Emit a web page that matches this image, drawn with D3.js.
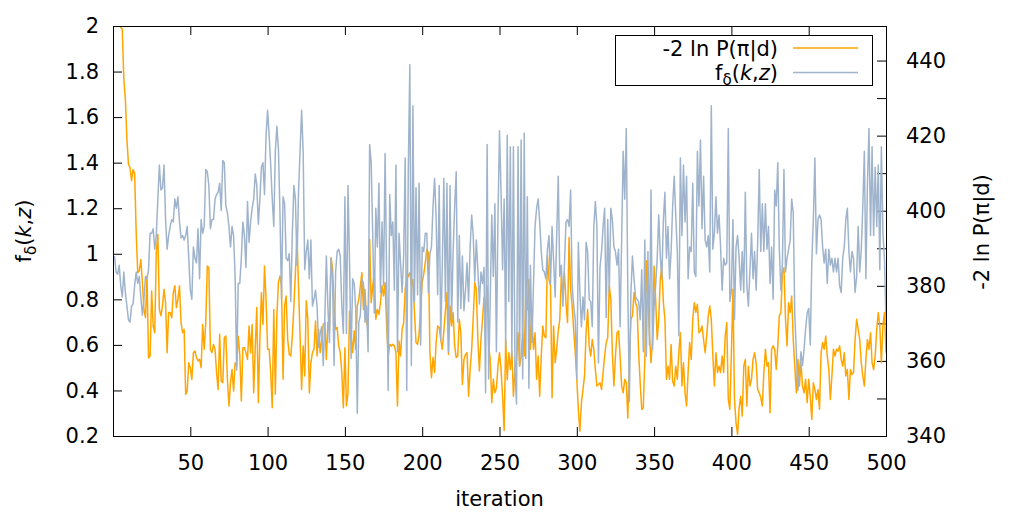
<!DOCTYPE html>
<html>
<head>
<meta charset="utf-8">
<script src="https://cdn.jsdelivr.net/npm/d3@7"></script>
<style>
  body { margin: 0; background: #fff; }
  text { font-family: "DejaVu Sans", sans-serif; fill: #000; }
</style>
</head>
<body>
<svg id="chart" width="1035" height="518"></svg>
<script>
// f_delta(k,z) per iteration (left axis)
const fDelta = [
  0.99,0.92,0.91,0.95,0.86,0.81,0.92,0.83,0.77,0.71,
  0.70,0.77,0.78,0.86,0.92,0.87,0.90,0.81,0.73,0.80,
  0.90,0.89,0.93,1.09,1.09,1.11,1.02,1.08,1.24,1.39,
  1.28,1.29,1.39,1.15,1.02,1.08,1.12,1.15,1.14,1.24,
  1.20,1.25,1.14,1.07,1.08,1.06,1.08,1.12,0.98,0.84,
  0.80,1.03,0.98,0.96,1.11,0.89,1.15,1.09,1.12,1.37,
  1.36,1.30,1.11,1.15,1.15,1.24,1.26,1.27,1.31,1.19,
  1.41,1.40,1.21,1.18,1.12,1.03,1.12,1.08,0.90,0.49,
  0.87,0.87,0.98,1.14,1.08,0.94,1.23,1.05,1.14,1.20,
  1.24,1.35,1.30,1.13,1.24,1.38,1.40,1.26,1.52,1.63,
  1.52,1.39,1.24,1.12,1.45,1.56,1.46,1.18,0.80,1.25,
  1.22,0.98,0.97,1.00,0.79,1.09,1.30,1.24,0.95,1.27,
  1.45,1.63,1.45,0.93,1.01,1.06,0.89,1.06,0.77,0.80,
  0.84,0.77,0.59,0.65,0.68,0.51,0.71,0.99,0.77,0.61,
  0.98,0.89,0.51,0.92,1.01,1.02,0.99,0.77,0.65,1.25,
  0.65,1.30,0.96,0.54,0.89,0.87,0.76,0.30,0.70,0.73,
  0.89,0.87,0.70,0.77,0.57,1.48,1.40,1.08,0.74,1.20,
  1.03,1.31,0.83,1.14,0.86,1.44,0.90,0.40,1.26,1.08,
  1.14,0.84,1.39,0.57,1.09,0.96,0.83,0.99,1.42,0.40,
  1.37,1.83,0.51,1.65,0.79,1.29,0.82,1.31,0.60,1.03,
  1.01,1.09,1.09,0.83,1.00,1.03,1.21,1.33,1.16,0.82,
  1.30,0.62,0.95,1.33,0.79,1.31,0.57,1.30,0.71,1.01,
  1.21,1.36,0.70,1.08,0.76,0.99,0.75,0.84,0.96,0.79,
  1.03,1.17,1.08,0.88,1.06,0.93,0.78,0.92,0.87,0.94,
  0.39,1.48,0.45,0.80,1.17,0.90,1.22,0.57,1.15,1.54,
  1.27,0.93,1.24,0.59,1.52,0.79,1.47,0.55,1.47,0.49,
  0.34,1.47,0.51,1.50,0.45,1.53,0.54,1.25,0.41,0.95,
  0.61,0.87,1.12,1.20,1.24,1.14,1.01,0.93,0.92,0.89,
  1.02,1.08,0.87,1.12,0.97,0.81,1.08,1.34,0.90,0.95,
  0.77,0.95,1.14,1.15,1.12,1.28,0.86,0.77,0.71,0.45,
  1.05,0.83,0.68,0.81,0.71,1.05,1.01,0.80,0.79,0.68,
  1.12,1.23,1.12,0.52,0.94,1.01,1.12,1.20,0.72,1.15,
  0.83,1.20,1.15,1.03,1.01,0.95,1.02,0.68,1.06,1.45,
  1.24,1.55,0.83,0.35,0.83,0.99,0.89,0.81,0.80,0.79,
  0.71,0.93,0.57,1.06,0.55,1.01,0.60,1.28,0.58,0.77,
  0.86,0.98,1.17,0.99,0.89,1.15,1.27,0.98,1.12,0.89,
  1.01,1.21,1.34,1.17,1.01,0.64,1.42,1.08,1.39,1.14,
  1.34,0.89,1.03,1.01,1.31,0.92,0.90,1.45,1.21,1.50,
  1.11,1.34,1.06,1.03,1.08,0.92,1.65,1.02,1.09,1.25,
  1.09,1.17,1.03,0.84,0.98,0.95,0.96,1.55,0.79,0.84,
  1.15,0.71,1.03,1.08,0.98,0.84,1.01,0.83,1.27,0.86,
  0.77,0.93,1.09,0.89,1.01,0.84,1.05,1.37,1.01,1.22,
  1.01,1.22,1.02,1.12,0.87,1.03,0.80,1.28,1.21,1.40,
  1.02,0.84,0.96,1.37,0.92,0.98,1.02,1.06,1.24,1.18,
  0.73,0.57,0.40,0.48,0.57,0.51,0.58,0.67,0.74,0.76,
  0.60,0.96,1.15,1.42,1.00,1.15,1.17,1.15,1.03,0.96,
  1.02,0.87,1.02,0.95,0.98,0.92,0.98,0.92,0.98,0.86,
  0.83,0.98,1.03,1.15,1.20,1.01,0.92,1.01,0.98,0.83,
  0.90,1.12,0.92,1.02,1.21,1.45,0.89,1.31,1.55,1.08,
  1.47,1.08,1.38,1.12,1.39,0.93,1.47,1.09,0.98,0.70
];

// -2 ln P(pi|d) per iteration (right axis)
const minus2LnP = [
  468,462,456,451,448.8,448.4,435,429.7,419,412.4,
  411.5,408,411,410,394,383.5,384,387,381,373.7,
  371.5,382.6,360.8,361.3,378.6,369.3,367.5,388.8,393.7,373.7,
  372,374.6,379.1,375.5,362.2,372.9,372.9,371.5,378.2,380,
  374.2,376.4,380,370.2,367.5,368.4,351.1,352,359.5,358.2,
  355.1,362.2,362.6,360.9,360,360.4,358.2,369.7,363.1,370.2,
  385.3,384.8,363.1,362.2,364.4,363.1,356.9,352.4,367.1,354.6,
  354.2,366.2,366.6,355.1,348,354.2,357.7,352,359.5,358.6,
  366.6,361.7,349.3,363.5,363.5,362.2,360.4,369.3,362.2,369.7,
  351.5,363.5,374.2,348.9,365.7,378.2,369.7,385.3,376.4,363.1,
  363.1,356.9,347.5,373.7,351.1,372,380.9,382.6,380,355.1,
  374.6,377.3,365.7,361.7,361.3,366.6,374.6,383.5,393.3,380,
  366.6,352.4,364,356,376,371.1,351.5,359.5,362.2,363.1,
  370.6,361.3,368.4,362.2,365.7,369.7,370.2,360.4,370.2,368.4,
  387.5,384.8,374.6,368.4,368.9,364,362.2,356.9,347.5,363.5,
  348,351.5,373.3,366.6,362.2,368,363.1,374.6,376.4,380,
  383.5,373.7,379.1,370.2,368.9,392.4,375.5,380,383.5,371.1,
  373.7,372.4,375.5,380,377.3,380.9,369.3,361.3,364.4,364,
  364.4,364,362.2,348,365.3,361.3,368.4,370.2,379.1,381.7,
  382.6,383.5,380,381.7,372.9,364.9,364.4,367.1,374.6,380.9,
  383.1,386.2,389.7,388.8,362.2,355.5,360.9,356.9,364.9,369.3,
  368.9,365.7,363.1,368,373.3,378.2,361.7,374.6,369.3,372.9,
  364,360.9,361.3,371.1,367.5,353.7,360.4,361.7,362.2,350.6,
  357.7,363.1,371.5,380.9,379.1,365.7,357.3,365.7,371.1,376.9,
  372.9,380,364,360.4,348.9,355.1,351.5,352.8,358.6,362.2,
  357.7,350.6,341.5,365.7,355,362.2,357.7,362.6,350.6,358.2,
  360.4,367.5,358.6,361.3,367.5,361.3,378.2,373.7,381.7,363.1,
  371.1,363.1,367.5,355.1,361.3,350.6,361.3,369.3,366.6,366.2,
  388,381.7,380,350.2,369.3,359.5,363.1,368,371.1,382.6,
  377.3,383.5,375.5,370.2,392.9,379.1,374.6,368,362.2,355.1,
  347.1,341.3,348.9,352.4,356,367.5,373.7,364,361.3,365.7,
  363.1,357.7,353.3,353.7,354.2,352.4,356.9,361.3,364.9,366.2,
  380,376.4,362.2,353.3,361.3,367.5,368,361.3,353.3,351.5,
  355.1,354.2,344.8,360.4,371.1,372,378.2,375.5,374.2,362.2,
  354.2,347.1,347.5,360.4,386.6,376.4,367.1,359.5,365.7,385.3,
  376.4,365.7,371.1,381.7,385.3,375.5,371.1,355.1,358.6,355.1,
  364.4,354.6,353.3,358.6,355.1,362.2,367.5,353.3,359.5,351.5,
  348,356.9,364.9,360.4,371.1,375.5,372.9,375.1,367.5,368,
  369.3,365.7,362.2,366.6,371.9,374.6,371.1,361.3,353.3,362.2,
  356.9,358.6,356.9,361.3,356.9,366.6,370.2,349.7,347.1,362.2,
  379.1,349.7,343.5,340.4,347.5,350.6,345.3,358.6,360.4,348,
  358.6,353.3,355.1,360.4,362.2,359.5,352.4,351.5,350.2,348,
  356.9,363.1,358.6,359.5,346.2,363.1,364,363.1,357.7,364,
  372,372.9,383.5,384.8,371.1,364,375.5,372.9,377.3,365.7,
  358.6,351.5,360.4,353.3,359.5,353.3,351.5,355.1,348.9,355.1,
  350.6,344.4,354.2,352.4,349.7,352.4,347.1,362.2,364.9,363.1,
  366.6,361.3,357.7,349.7,356,363.1,361.3,363.1,362.6,364,
  360.4,358.6,362.2,356,357.7,349.7,357.7,356.4,356.9,365.7,
  371.1,368.4,365.7,359.5,356,353.3,360.4,365.7,363.1,367.5,
  359.5,357.7,361.3,368.4,372.9,369.3,359.5,369.3,372.9,362.2
];

const xTicks = [50, 100, 150, 200, 250, 300, 350, 400, 450, 500];
const leftTicks = [0.2, 0.4, 0.6, 0.8, 1, 1.2, 1.4, 1.6, 1.8, 2];
const rightTicks = [340, 350, 360, 370, 380, 390, 400, 410, 420, 430, 440];
const rightLabels = [340, 360, 380, 400, 420, 440];

// Chart settings
const plot = { left: 113, right: 886, top: 26, bottom: 436 };
const colors = { lnP: '#ffa500', f: '#9fb4cc' };
const fontSize = 21;

const svg = d3.select('#chart');

// Scales
const x = d3.scaleLinear().domain([0, 500]).range([plot.left, plot.right]);
const yLeft = d3.scaleLinear().domain([0.2, 2]).range([plot.bottom, plot.top]);
const yRight = d3.scaleLinear().domain([340, 449.2]).range([plot.bottom, plot.top]);

// Clip the traces to the plot frame
svg.append('defs').append('clipPath')
  .attr('id', 'plot-clip')
  .append('rect')
  .attr('x', plot.left)
  .attr('y', plot.top)
  .attr('width', plot.right - plot.left)
  .attr('height', plot.bottom - plot.top);

// Axes (ticks point inward, like gnuplot)
const styleAxis = g => {
  g.select('.domain').remove();
  g.attr('color', '#000');
  g.selectAll('text')
    .attr('font-size', fontSize)
    .attr('font-family', '"DejaVu Sans", sans-serif');
};

svg.append('g')
  .attr('transform', `translate(0,${plot.bottom})`)
  .call(d3.axisBottom(x).tickValues(xTicks).tickSize(-9).tickPadding(19.5))
  .call(styleAxis);

svg.append('g')
  .attr('transform', `translate(0,${plot.top})`)
  .call(d3.axisTop(x).tickValues(xTicks).tickSize(-9).tickFormat(''))
  .call(styleAxis);

svg.append('g')
  .attr('transform', `translate(${plot.left},0)`)
  .call(d3.axisLeft(yLeft).tickValues(leftTicks).tickSize(-9).tickPadding(14)
    .tickFormat(d => String(+d.toFixed(1))))
  .call(styleAxis);

svg.append('g')
  .attr('transform', `translate(${plot.right},0)`)
  .call(d3.axisRight(yRight).tickValues(rightTicks).tickSize(-9).tickPadding(20)
    .tickFormat(d => rightLabels.includes(d) ? d : ''))
  .call(styleAxis);

// Traces
const traces = svg.append('g').attr('clip-path', 'url(#plot-clip)');

traces.append('path')
  .datum(minus2LnP)
  .attr('fill', 'none')
  .attr('stroke', colors.lnP)
  .attr('stroke-width', 1.5)
  .attr('stroke-linejoin', 'round')
  .attr('d', d3.line().x((d, i) => x(i + 1)).y(d => yRight(d)));

traces.append('path')
  .datum(fDelta)
  .attr('fill', 'none')
  .attr('stroke', colors.f)
  .attr('stroke-width', 1.5)
  .attr('stroke-linejoin', 'round')
  .attr('d', d3.line().x((d, i) => x(i + 1)).y(d => yLeft(d)));

// Plot frame
svg.append('rect')
  .attr('x', plot.left + 0.5)
  .attr('y', plot.top + 0.5)
  .attr('width', plot.right - plot.left)
  .attr('height', plot.bottom - plot.top)
  .attr('fill', 'none')
  .attr('stroke', '#000')
  .attr('stroke-width', 1);

// Axis titles
svg.append('text')
  .attr('x', (plot.left + plot.right) / 2)
  .attr('y', 506)
  .attr('text-anchor', 'middle')
  .attr('font-size', fontSize)
  .text('iteration');

/**
 * Append f_delta(k,z) with subscript and italics to a text element
 */
function writeFDelta(textSel) {
  textSel.append('tspan').text('f');
  textSel.append('tspan').attr('font-size', fontSize * 0.72).attr('dy', 5).text('δ');
  textSel.append('tspan').attr('dy', -5).text('(');
  textSel.append('tspan').attr('font-style', 'italic').text('k');
  textSel.append('tspan').text(',');
  textSel.append('tspan').attr('font-style', 'italic').text('z');
  textSel.append('tspan').text(')');
}

const leftTitle = svg.append('text')
  .attr('transform', 'translate(31,231) rotate(-90)')
  .attr('text-anchor', 'middle')
  .attr('font-size', fontSize);
writeFDelta(leftTitle);

svg.append('text')
  .attr('transform', 'translate(989,232) rotate(-90)')
  .attr('text-anchor', 'middle')
  .attr('font-size', fontSize)
  .text('-2 ln P(π|d)');

// Legend
const legend = svg.append('g');

legend.append('rect')
  .attr('x', 615.5)
  .attr('y', 35.5)
  .attr('width', 257)
  .attr('height', 50)
  .attr('fill', 'none')
  .attr('stroke', '#000')
  .attr('stroke-width', 1);

legend.append('text')
  .attr('x', 778)
  .attr('y', 56)
  .attr('text-anchor', 'end')
  .attr('font-size', fontSize)
  .text('-2 ln P(π|d)');

const legendF = legend.append('text')
  .attr('x', 778)
  .attr('y', 80)
  .attr('text-anchor', 'end')
  .attr('font-size', fontSize);
writeFDelta(legendF);

legend.append('line')
  .attr('x1', 793).attr('x2', 858)
  .attr('y1', 48).attr('y2', 48)
  .attr('stroke', colors.lnP)
  .attr('stroke-width', 1.5);

legend.append('line')
  .attr('x1', 793).attr('x2', 858)
  .attr('y1', 72.5).attr('y2', 72.5)
  .attr('stroke', colors.f)
  .attr('stroke-width', 1.5);
</script>
</body>
</html>
